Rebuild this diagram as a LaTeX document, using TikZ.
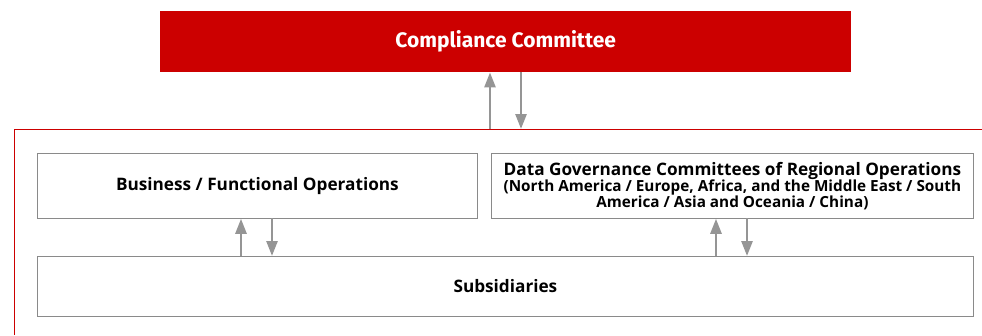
\documentclass[tikz,border=0pt]{standalone}
\usepackage{fontspec}
\setmainfont{Open Sans}
\newfontfamily\titlefont{Fira Sans}
\usetikzlibrary{arrows.meta}
\definecolor{cred}{HTML}{CC0000}
\definecolor{cgray}{HTML}{959595}
\definecolor{cbord}{HTML}{8A8A8A}
\newcommand{\subline}[1]{{\fontsize{15.3}{15.5}\selectfont #1}}
\begin{document}
\begin{tikzpicture}[x=1pt,y=-1pt,
  box/.style={draw=cbord,line width=0.8pt,fill=white,anchor=north west,inner sep=0pt,
    font=\bfseries\fontsize{17.2}{15.5}\selectfont,align=center},
  flow/.style={draw=cgray,line width=2.6pt,-{Triangle[length=15pt,width=11pt]}}]
\useasboundingbox (0,0) rectangle (982,335);
% outer red frame (open to the right and bottom)
\draw[cred,line width=0.9pt] (14,335) -- (14,129) -- (982,129);
% top committee
\node[anchor=north west,fill=cred,minimum width=691pt,minimum height=61pt,inner sep=0pt,
  text=white,font=\titlefont\bfseries\fontsize{21}{24}\selectfont] (cc) at (160,11) {Compliance Committee};
% level two
\node[box,minimum width=440pt,minimum height=65pt] (bf) at (37,153) {Business / Functional Operations};
\node[box,minimum width=482pt,minimum height=65pt] (dg) at (491,153)
  {Data Governance Committees of Regional Operations\\
   \subline{(North America / Europe, Africa, and the Middle East / South}\\
   \subline{America / Asia and Oceania / China)}};
\node[box,minimum width=936pt,minimum height=60pt] (sub) at (37,256) {Subsidiaries};
% connectors
\coordinate (fu) at (490,129);
\coordinate (fd) at (521,129);
\draw[flow] (fu) -- (fu |- cc.south);
\draw[flow] (fd |- cc.south) -- (fd);
\draw[flow] (241,256) coordinate (a1) -- (a1 |- bf.south);
\draw[flow] (272,218) coordinate (a2) -- (a2 |- sub.north);
\draw[flow] (716,256) coordinate (b1) -- (b1 |- dg.south);
\draw[flow] (747,218) coordinate (b2) -- (b2 |- sub.north);
\end{tikzpicture}
\end{document}
